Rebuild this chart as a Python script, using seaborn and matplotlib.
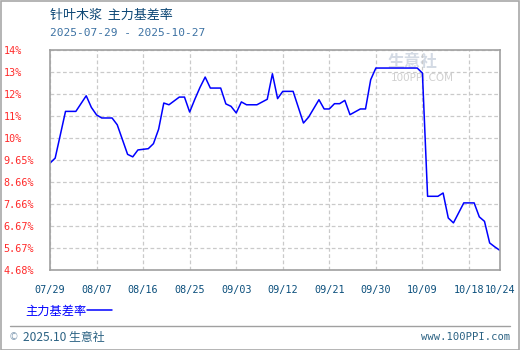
import numpy as np
import pandas as pd
import matplotlib
matplotlib.use("Agg")
import matplotlib.pyplot as plt
import matplotlib.dates as mdates
from matplotlib.scale import FuncScale
from matplotlib.lines import Line2D
import seaborn as sns

# ---------------- data ----------------
title = "针叶木浆  主力基差率"
subtitle = "2025-07-29 - 2025-10-27"
series_name = "主力基差率"

dates = ["2025-07-29", "2025-07-30", "2025-08-01", "2025-08-03", "2025-08-05",
         "2025-08-06", "2025-08-07", "2025-08-08", "2025-08-10", "2025-08-11",
         "2025-08-13", "2025-08-14", "2025-08-15", "2025-08-17", "2025-08-18",
         "2025-08-19", "2025-08-20", "2025-08-21", "2025-08-23", "2025-08-24",
         "2025-08-25", "2025-08-26", "2025-08-27", "2025-08-28", "2025-08-29",
         "2025-08-31", "2025-09-01", "2025-09-02", "2025-09-03", "2025-09-04",
         "2025-09-05", "2025-09-07", "2025-09-09", "2025-09-10", "2025-09-11",
         "2025-09-12", "2025-09-14", "2025-09-16", "2025-09-17", "2025-09-19",
         "2025-09-20", "2025-09-21", "2025-09-22", "2025-09-23", "2025-09-24",
         "2025-09-25", "2025-09-27", "2025-09-28", "2025-09-29", "2025-09-30",
         "2025-10-08", "2025-10-09", "2025-10-10", "2025-10-12", "2025-10-13",
         "2025-10-14", "2025-10-15", "2025-10-17", "2025-10-19", "2025-10-20",
         "2025-10-21", "2025-10-22", "2025-10-23", "2025-10-24"]
values = [9.51, 9.68, 11.21, 11.21, 11.92,
          11.39, 11.05, 10.91, 10.91, 10.60,
          9.74, 9.70, 9.81, 9.83, 9.91,
          10.40, 11.59, 11.51, 11.86, 11.86,
          11.18, 11.76, 12.30, 12.77, 12.27,
          12.27, 11.55, 11.44, 11.14, 11.64,
          11.51, 11.51, 11.76, 12.92, 11.79,
          12.12, 12.12, 10.68, 10.95, 11.74,
          11.32, 11.32, 11.56, 11.56, 11.71,
          11.06, 11.32, 11.32, 12.65, 13.18,
          13.18, 12.95, 8.01, 8.01, 8.16,
          7.03, 6.81, 7.71, 7.71, 7.08,
          6.88, 5.90, 5.72, 5.56]

ytick_values = [4.68, 5.67, 6.67, 7.66, 8.66, 9.65, 10, 11, 12, 13, 14]
ytick_labels = ["4.68%", "5.67%", "6.67%", "7.66%", "8.66%", "9.65%",
                "10%", "11%", "12%", "13%", "14%"]
xtick_dates = ["2025-07-29", "2025-08-07", "2025-08-16", "2025-08-25", "2025-09-03",
               "2025-09-12", "2025-09-21", "2025-09-30", "2025-10-09", "2025-10-18",
               "2025-10-24"]
xtick_labels = ["07/29", "08/07", "08/16", "08/25", "09/03", "09/12",
                "09/21", "09/30", "10/09", "10/18", "10/24"]

df = pd.DataFrame({"date": pd.to_datetime(dates), "value": values})

# ---------------- style ----------------
sns.set_theme(style="white")
plt.rcParams["font.family"] = ["Noto Sans CJK SC", "DejaVu Sans"]

W, H = 520, 350
fig = plt.figure(figsize=(W / 100, H / 100), dpi=100)
fig.patch.set_facecolor("white")

def fx(px):
    return px / W

def fy(py):
    return 1 - py / H

ax = fig.add_axes([fx(50), fy(270), fx(500) - fx(50), fy(50) - fy(270)])

# piecewise-linear y scale so that the (uneven) tick values are evenly spaced
tv = np.array(ytick_values, dtype=float)
pos = np.arange(len(tv), dtype=float)

def fwd(v):
    return np.interp(v, tv, pos)

def inv(p):
    return np.interp(p, pos, tv)

ax.set_yscale(FuncScale(ax, (fwd, inv)))

sns.lineplot(data=df, x="date", y="value", ax=ax, color="#0000ff", linewidth=1.1,
             legend=False)

ax.set_ylim(ytick_values[0], ytick_values[-1])
ax.set_xlim(pd.Timestamp("2025-07-29"), pd.Timestamp("2025-10-24"))

ax.set_yticks(ytick_values)
ax.set_yticklabels(ytick_labels, family="DejaVu Sans Mono", fontsize=7.3,
                   color="#ff2a2a", ha="left")
ax.yaxis.set_minor_locator(matplotlib.ticker.NullLocator())
ax.tick_params(axis="y", length=0, pad=33.5)

xt = pd.to_datetime(xtick_dates)
ax.set_xticks(mdates.date2num(xt))
ax.set_xticklabels(xtick_labels, family="DejaVu Sans Mono", fontsize=7.3,
                   color="#0b4f7c")
ax.tick_params(axis="x", length=0, pad=11)

ax.set_xlabel("")
ax.set_ylabel("")

ax.grid(True, which="major", color="#cacaca", linestyle=(0, (3, 2)), linewidth=0.9)
for s in ax.spines.values():
    s.set_color("#a0a0a0")
    s.set_linewidth(1.2)

# watermark
fig.text(fx(387), fy(62), "生意社", fontsize=12, color="#d3dae4", va="center",
         ha="left", fontweight="bold", zorder=0)
fig.text(fx(391), fy(78), "100PPI.COM", family="DejaVu Sans", fontsize=7.5,
         color="#d0d0d0", va="center", ha="left", zorder=0)
ax.set_zorder(1)
ax.patch.set_alpha(0)

# titles
fig.text(fx(50), fy(15), title, fontsize=9.4, color="#0d4775", va="center", ha="left")
fig.text(fx(50), fy(33), subtitle, family="DejaVu Sans Mono", fontsize=8,
         color="#3d72a3", va="center", ha="left")

# legend (text then line)
handle = Line2D([], [], color="#0000ff", linewidth=1.1)
leg = fig.legend([handle], [series_name], loc="center left",
                 bbox_to_anchor=(fx(20), fy(311)), frameon=False, markerfirst=False,
                 handlelength=2.0, handletextpad=0.1, borderaxespad=0,
                 prop={"size": 8.8}, labelcolor="#0000ff")

# footer
fig.add_artist(Line2D([fx(10), fx(510)], [fy(326), fy(326)], color="#a0a0a0",
                      linewidth=1.0))
fig.text(fx(9), fy(337), "©", family="DejaVu Sans", fontsize=7, color="#8aa2b8",
         va="center", ha="left")
fig.text(fx(23), fy(337), "2025.10 生意社", fontsize=8.6, color="#2b6283",
         va="center", ha="left")
fig.text(fx(510), fy(337), "www.100PPI.com", family="DejaVu Sans Mono", fontsize=7.6,
         color="#2b6283", va="center", ha="right")

# outer frame
fig.add_artist(plt.Rectangle((0.001, 0.001), 0.997, 0.997, transform=fig.transFigure,
                             fill=False, edgecolor="#a8a8a8", linewidth=1.2))

fig.savefig("out.png", dpi=100, facecolor="white")
